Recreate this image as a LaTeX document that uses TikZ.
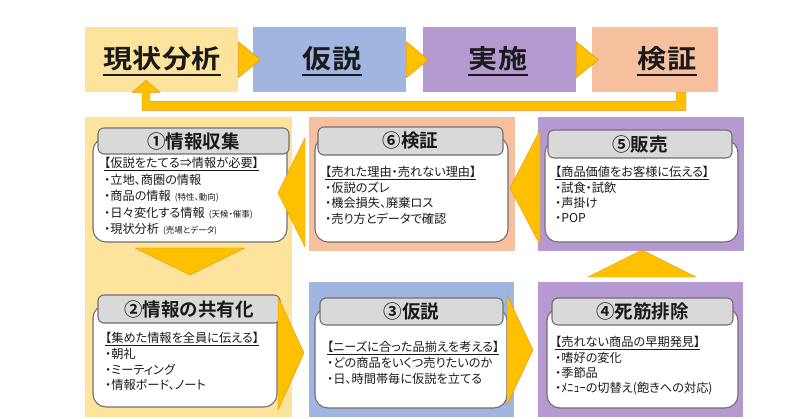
\documentclass[tikz,border=0pt]{standalone}
\usepackage{fontspec}
\setmainfont{Noto Sans CJK JP}[BoldFont={Noto Sans CJK JP Bold}]
\newfontfamily\jpp{Noto Sans CJK JP}[RawFeature=+palt]
\usetikzlibrary{calc}
\definecolor{pyel}{HTML}{FDE39B}
\definecolor{pblue}{HTML}{A0B6E0}
\definecolor{ppur}{HTML}{B49AD0}
\definecolor{ppea}{HTML}{F6C09E}
\definecolor{gold}{HTML}{FFC000}
\definecolor{goldedge}{HTML}{E8900C}
\definecolor{cardedge}{HTML}{707070}
\definecolor{titlefill}{HTML}{D9D9D9}
\definecolor{txt}{HTML}{1A1A1A}
\newcommand\smallnote[1]{\hspace{4pt}{\fontsize{8.5}{8.5}\selectfont #1}}
\newcommand\cardlines[5]{%
  \foreach \t [count=\i from 0] in {#5} {%
    \node[bodyline] (#1-\i) at (#2, {-(#3+\i*#4)}) {\t};}}
\tikzset{
  topbox/.style={inner sep=0, anchor=north west, minimum height=65},
  toptext/.style={font=\bfseries\fontsize{26}{26}\selectfont, inner sep=0, text=txt},
  ulk/.style={line width=1.8pt, txt},
  tri/.style={fill=gold, draw=goldedge, line width=0.4pt},
  cardbody/.style={fill=white, draw=cardedge, line width=1.1pt, rounded corners=13pt},
  titlebar/.style={fill=titlefill, draw=cardedge, line width=1.1pt, rounded corners=6pt,
    inner sep=0, font=\bfseries\fontsize{18.5}{18.5}\selectfont, text=txt},
  bodyline/.style={anchor=base west, inner sep=0, font=\jpp\fontsize{12.2}{14}\selectfont, text=txt},
}
\begin{document}
\begin{tikzpicture}[x=1pt,y=1pt]
\useasboundingbox (0,0) rectangle (800,-419);
\fill[white] (0,0) rectangle (800,-419);

% top row
\node[topbox, fill=pyel,  minimum width=153] (A) at (85,-27) {};
\node[topbox, fill=pblue, minimum width=153] (B) at (253,-27) {};
\node[topbox, fill=ppur,  minimum width=153] (C) at (423,-27) {};
\node[topbox, fill=ppea,  minimum width=126] (D) at (592,-27) {};

\foreach \n/\m in {A/B, B/C, C/D}
  \fill[tri] ($(\n.east)+(0,18)$) -- ($(\n.east)+(22,0)$) -- ($(\n.east)+(0,-18)$) -- cycle;

\node[toptext] (tA) at (162,-58.5) {\scalebox{1.12}[1]{現状分析}};
\node[toptext] (tB) at (332,-58.5) {\scalebox{1.12}[1]{仮説}};
\node[toptext] (tC) at (498,-58.5) {\scalebox{1.12}[1]{実施}};
\node[toptext] (tD) at (667,-58.5) {\scalebox{1.12}[1]{検証}};
\foreach \n in {tA,tB,tC,tD}
  \draw[ulk] ($(\n.south west)+(-1,-4)$) -- ($(\n.south east)+(1,-4)$);

% return arrow from D back to A
\coordinate (rD) at ($(D.south west)+(89,0)$);
\coordinate (rA) at ($(A.south west)+(61,0)$);
\fill[tri] ($(rD)+(5,0)$) -- ($(rD)+(5,-18)$) -- ($(rA)+(-4,-18)$) -- ($(rA)+(-4,0)$)
  -- ($(rA)+(-14,0)$) -- ($(rA)+(0,12)$) -- ($(rA)+(14,0)$) -- ($(rA)+(4,0)$)
  -- ($(rA)+(4,-9)$) -- ($(rD)+(-5,-9)$) -- ($(rD)+(-5,0)$) -- cycle;

% panels
\fill[pyel] (85,-117) rectangle (292,-417);
\fill[ppea] (309,-117) rectangle (515,-251);
\fill[ppur] (538,-117) rectangle (744,-251);
\fill[pblue] (309,-282) rectangle (514,-417);
\fill[ppur] (538,-282) rectangle (743,-417);

% cards
\draw[cardbody] (93,-138) rectangle (287,-242);
\node[titlebar, minimum width=191, minimum height=26] (T1) at (193.5,-141) {①情報収集};
\draw[cardbody] (315,-137) rectangle (508,-242);
\node[titlebar, minimum width=185, minimum height=28] (T6) at (410.5,-141) {⑥検証};
\draw[cardbody] (545,-140) rectangle (738,-242);
\node[titlebar, minimum width=184, minimum height=28] (T5) at (640,-144) {⑤販売};
\draw[cardbody] (93,-305) rectangle (277,-407);
\node[titlebar, minimum width=182, minimum height=28] (T2) at (189,-309) {②情報の共有化};
\draw[cardbody] (315,-308) rectangle (507,-408);
\node[titlebar, minimum width=183, minimum height=27] (T3) at (411.5,-311.5) {③仮説};
\draw[cardbody] (547,-308) rectangle (738,-408);
\node[titlebar, minimum width=181, minimum height=27] (T4) at (642.5,-311.5) {④死筋排除};

% card texts
\cardlines{c1}{104}{168}{16.4}{{\underline{【仮説をたてる⇒情報が必要】}},
  {・立地、商圏の情報},
  {・商品の情報\smallnote{(特性、動向)}},
  {・日々変化する情報\smallnote{(天候・催事)}},
  {・現状分析\smallnote{(売場とデータ)}}}
\cardlines{c6}{325}{177}{15.5}{{\underline{【売れた理由・売れない理由】}},
  {・仮説のズレ},{・機会損失、廃棄ロス},{・売り方とデータで確認}}
\cardlines{c5}{555}{177}{15.3}{{\underline{【商品価値をお客様に伝える】}},
  {・試食・試飲},{・声掛け},{・POP}}
\cardlines{c2}{105}{343}{15.5}{{\underline{【集めた情報を全員に伝える】}},
  {・朝礼},{・ミーティング},{・情報ボード、ノート}}
\cardlines{c3}{327}{352}{15.5}{{\underline{【ニーズに合った品揃えを考える】}},
  {・どの商品をいくつ売りたいのか},{・日、時間帯毎に仮説を立てる}}
\cardlines{c4}{555}{347}{15.3}{{\underline{【売れない商品の早期発見】}},
  {・嗜好の変化},{・季節品},{・ﾒﾆｭｰの切替え(飽きへの対応)}}

% flow triangles
\fill[tri] (305,-138) -- (278,-193) -- (305,-247) -- cycle;
\fill[tri] (135,-248) -- (245,-248) -- (190,-275) -- cycle;
\fill[tri] (278,-297) -- (304,-353) -- (278,-410) -- cycle;
\fill[tri] (507,-295) -- (533,-350) -- (507,-405) -- cycle;
\fill[tri] (588,-277) -- (696,-277) -- (642,-250) -- cycle;
\fill[tri] (540,-130) -- (510,-188) -- (540,-245) -- cycle;
\end{tikzpicture}
\end{document}
